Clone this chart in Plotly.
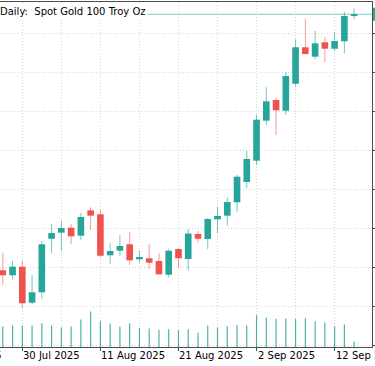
import plotly.graph_objects as go
from datetime import datetime

# ---- data (daily bars, Spot Gold) ----
dates = ["2025-07-28", "2025-07-29", "2025-07-30", "2025-07-31", "2025-08-01",
         "2025-08-04", "2025-08-05", "2025-08-06", "2025-08-07", "2025-08-08",
         "2025-08-11", "2025-08-12", "2025-08-13", "2025-08-14", "2025-08-15",
         "2025-08-18", "2025-08-19", "2025-08-20", "2025-08-21", "2025-08-22",
         "2025-08-25", "2025-08-26", "2025-08-27", "2025-08-28", "2025-08-29",
         "2025-09-01", "2025-09-02", "2025-09-03", "2025-09-04", "2025-09-05",
         "2025-09-08", "2025-09-09", "2025-09-10", "2025-09-11", "2025-09-12",
         "2025-09-15", "2025-09-16"]
opens = [3323.1, 3315.8, 3328.3, 3275.8, 3291.0,
         3369.1, 3377.9, 3385.2, 3373.5, 3410.5,
         3404.7, 3344.9, 3351.6, 3361.0, 3339.1,
         3340.6, 3336.6, 3316.6, 3354.1, 3339.5,
         3376.0, 3368.7, 3397.4, 3402.7, 3422.2,
         3451.8, 3482.8, 3541.2, 3571.3, 3555.7,
         3595.1, 3648.2, 3634.5, 3655.4, 3646.1,
         3656.9, 3694.2]
highs = [3348.7, 3336.6, 3336.6, 3316.2, 3365.8,
         3390.6, 3395.4, 3390.6, 3406.6, 3414.9,
         3411.0, 3362.4, 3374.5, 3378.5, 3351.6,
         3361.4, 3348.3, 3353.7, 3355.1, 3382.8,
         3380.4, 3398.9, 3415.8, 3429.5, 3462.0,
         3497.4, 3549.5, 3589.8, 3574.7, 3612.6,
         3659.8, 3689.4, 3671.9, 3662.7, 3670.5,
         3700.1, 3705.0]
lows = [3302.1, 3309.9, 3267.7, 3273.9, 3281.7,
        3347.8, 3351.6, 3361.0, 3367.7, 3382.3,
        3342.5, 3332.2, 3344.3, 3330.8, 3334.1,
        3325.0, 3316.2, 3312.9, 3326.9, 3322.5,
        3363.3, 3353.7, 3377.0, 3388.1, 3408.5,
        3442.6, 3476.6, 3534.9, 3520.3, 3549.5,
        3590.7, 3637.7, 3630.7, 3626.3, 3642.8,
        3639.4, 3689.0]
closes = [3315.8, 3328.3, 3275.0, 3291.0, 3361.0,
          3377.4, 3384.7, 3372.6, 3400.8, 3402.7,
          3344.3, 3351.2, 3358.5, 3337.6, 3342.5,
          3334.1, 3317.2, 3351.6, 3340.6, 3376.7,
          3369.1, 3397.9, 3402.2, 3422.6, 3459.5,
          3485.3, 3542.6, 3569.4, 3556.3, 3606.3,
          3648.2, 3638.4, 3654.0, 3646.1, 3657.3,
          3693.8, 3696.3]
volumes = [123000, 129000, 129000, 129000, 142800,
           129000, 117000, 123000, 165000, 213000,
           154800, 141000, 123000, 142800, 115200,
           111000, 103200, 106800, 100800, 106800,
           85200, 129000, 117000, 124800, 133200,
           129000, 190800, 177000, 169200, 171000,
           169200, 172800, 154800, 147000, 124800,
           135000, 33000]
prev_label_date = "2025-07-18"
title_text = "Daily:  Spot Gold 100 Troy Oz"

# ---- styling ----
GREEN = "#26a69a"
RED = "#ef5350"
GREEN_WICK = "rgba(38,166,154,0.65)"
RED_WICK = "rgba(239,83,80,0.6)"
GRID = "#d6d6d6"
GRID_DASH = "1px,2px"
AXIS = "#4a4a4a"
FONT = "DejaVu Sans"

x = list(range(len(dates)))
up = [c >= o for o, c in zip(opens, closes)]
body_col = [GREEN if u else RED for u in up]
wick_col = [GREEN_WICK if u else RED_WICK for u in up]

def fmt(d):
    dt = datetime.strptime(d, "%Y-%m-%d")
    return f"{dt.day} {dt.strftime('%b %Y')}"

label_idx = list(range(2, len(dates), 8))
grid_minor_idx = list(range(6, len(dates), 8))

XMIN, XMAX = -0.287, 37.83
YMIN, YMAX = 3211.25, 3714.2
VOL_TOP = 345 * 6000

fig = go.Figure()
fig.add_trace(go.Bar(x=x, base=lows, y=[h - l for h, l in zip(highs, lows)],
                     width=0.1, marker=dict(color=wick_col, line_width=0),
                     hoverinfo="skip"))
fig.add_trace(go.Bar(x=x, base=[min(o, c) for o, c in zip(opens, closes)],
                     y=[max(abs(c - o), 1.5) for o, c in zip(opens, closes)],
                     width=0.68, marker=dict(color=body_col, line_width=0)))
fig.add_trace(go.Bar(x=x, y=volumes, width=0.12, yaxis="y2",
                     marker=dict(color="rgba(38,166,154,0.85)", line_width=0)))

last = closes[-1]
tag_half = 6.5 * (YMAX - YMIN) / 345

label_font = dict(family=FONT, size=10, color="black")
date_annotations = [
    dict(text=fmt(dates[i]), xref="x", yref="paper", x=i, y=0,
         xanchor="left", yanchor="top", showarrow=False, xshift=-1, yshift=-1,
         font=label_font)
    for i in label_idx
]
date_annotations.append(
    dict(text=fmt(prev_label_date), xref="paper", yref="paper",
         x=(-6 - XMIN) / (XMAX - XMIN), y=0, xanchor="left", yanchor="top",
         showarrow=False, xshift=-1, yshift=-1, font=label_font))

fig.update_layout(
    width=375, height=366,
    margin=dict(l=0, r=3, t=2, b=19),
    paper_bgcolor="white", plot_bgcolor="white",
    showlegend=False, barmode="overlay",
    font=dict(family=FONT, size=10, color="black"),
    xaxis=dict(range=[XMIN, XMAX], tickmode="array",
               tickvals=label_idx, showticklabels=False,
               ticks="outside", ticklen=3, tickcolor=AXIS,
               showline=True, linecolor=AXIS, mirror=True,
               showgrid=True, gridcolor=GRID, griddash=GRID_DASH,
               minor=dict(tickmode="array", tickvals=grid_minor_idx, ticks="",
                          showgrid=True, gridcolor=GRID, griddash=GRID_DASH),
               zeroline=False, automargin=False),
    yaxis=dict(range=[YMIN, YMAX], side="right", tick0=3270, dtick=57,
               showticklabels=False, ticks="outside", ticklen=3, tickcolor=AXIS,
               showline=True, linecolor=AXIS,
               showgrid=True, gridcolor=GRID, griddash=GRID_DASH,
               zeroline=False, automargin=False),
    yaxis2=dict(overlaying="y", range=[0, VOL_TOP], visible=False),
    shapes=[
        dict(type="line", xref="x", yref="y", x0=XMIN, x1=XMAX, y0=last, y1=last,
             line=dict(color="#7fd0c7", width=1), layer="between"),
        dict(type="rect", xref="paper", yref="paper",
             x0=373 / 372, x1=1.2,
             y0=(last - tag_half - YMIN) / (YMAX - YMIN),
             y1=(last + tag_half - YMIN) / (YMAX - YMIN),
             fillcolor=GREEN, line_width=0, layer="above"),
    ],
    annotations=[
        dict(text=title_text, xref="paper", yref="paper", x=0, y=1,
             xanchor="left", yanchor="top", showarrow=False, xshift=-2, yshift=-2,
             bgcolor="white", font=label_font),
    ] + date_annotations,
)

fig.write_html("out.html", config={"displayModeBar": False},
               post_script="document.body.style.margin='0';document.body.style.overflow='hidden';")
